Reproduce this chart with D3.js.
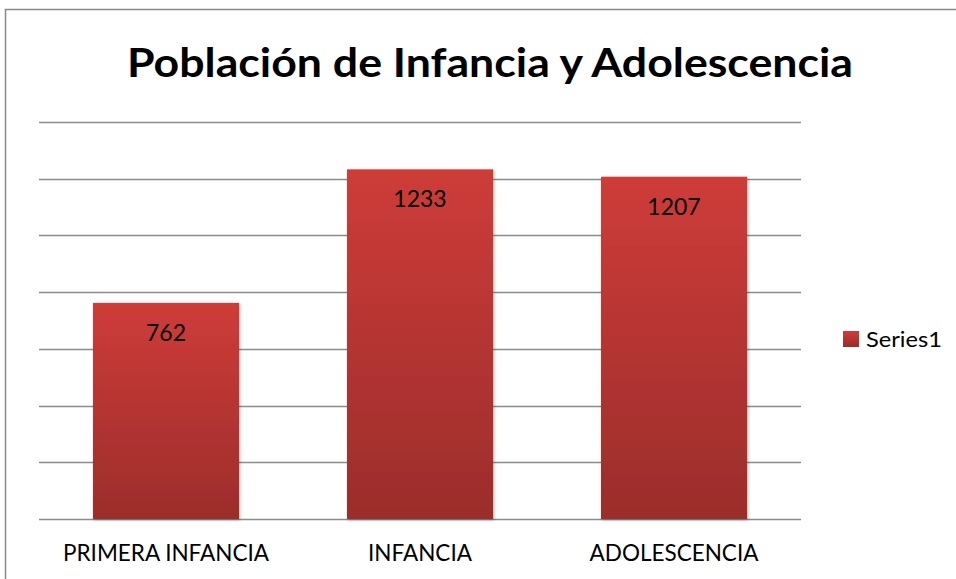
<!DOCTYPE html>
<html>
<head>
<meta charset="utf-8">
<script src="https://cdn.jsdelivr.net/npm/d3@7"></script>
<style>
  html, body { margin: 0; padding: 0; background: #fff; }
  svg { display: block; }
</style>
</head>
<body>
<script>
const categories = ["PRIMERA INFANCIA", "INFANCIA", "ADOLESCENCIA"];
const values = [762, 1233, 1207];
const gridTicks = [0, 200, 400, 600, 800, 1000, 1200, 1400];
const seriesName = "Series1";
const title = "Población de Infancia y Adolescencia";

const width = 956;
const height = 579;
const plot = {left: 39, right: 801, top: 122, bottom: 519};
const font = "Lato, 'Open Sans', sans-serif";

const svg = d3.select('body')
  .append('svg')
  .attr('width', width)
  .attr('height', height);

// gradient for the bars
const grad = svg.append('defs')
  .append('linearGradient')
  .attr('id', 'barGrad')
  .attr('x1', 0).attr('y1', 0).attr('x2', 0).attr('y2', 1);
grad.append('stop').attr('offset', '0%').attr('stop-color', '#ce3c39');
grad.append('stop').attr('offset', '100%').attr('stop-color', '#9b2d2b');

const shadow = svg.select('defs')
  .append('filter')
  .attr('id', 'shadow')
  .attr('x', '-10%').attr('y', '-10%').attr('width', '120%').attr('height', '120%');
shadow.append('feDropShadow')
  .attr('dx', 1).attr('dy', 1).attr('stdDeviation', 1.5)
  .attr('flood-color', '#000').attr('flood-opacity', 0.3);

// outer frame
svg.append('rect')
  .attr('x', 5.5).attr('y', 9.5)
  .attr('width', width + 10).attr('height', height + 10)
  .attr('fill', 'none')
  .attr('stroke', '#8a8a8a')
  .attr('stroke-width', 1.5);

// title
svg.append('text')
  .attr('x', 490)
  .attr('y', 77)
  .attr('text-anchor', 'middle')
  .attr('font-family', font)
  .attr('font-weight', 'bold')
  .attr('font-size', 41)
  .attr('textLength', 726)
  .attr('lengthAdjust', 'spacingAndGlyphs')
  .attr('fill', '#000')
  .text(title);

const xScale = d3.scaleBand()
  .domain(categories)
  .range([plot.left, plot.right])
  .paddingInner(0.425)
  .paddingOuter(0.2125);

const yScale = d3.scaleLinear()
  .domain([0, 1400])
  .range([plot.bottom, plot.top]);

// gridlines
svg.append('g')
  .selectAll('line')
  .data(gridTicks)
  .enter()
  .append('line')
  .attr('x1', plot.left)
  .attr('x2', plot.right)
  .attr('y1', (d) => Math.round(yScale(d)) + 0.5)
  .attr('y2', (d) => Math.round(yScale(d)) + 0.5)
  .attr('stroke', '#8c8c8c')
  .attr('stroke-width', 1.5);

// bars
svg.append('g')
  .selectAll('rect')
  .data(values)
  .enter()
  .append('rect')
  .attr('x', (d, i) => xScale(categories[i]))
  .attr('y', (d) => yScale(d))
  .attr('width', xScale.bandwidth())
  .attr('height', (d) => yScale(0) - yScale(d))
  .attr('fill', 'url(#barGrad)')
  .attr('filter', 'url(#shadow)');

// value labels
svg.append('g')
  .selectAll('text')
  .data(values)
  .enter()
  .append('text')
  .attr('x', (d, i) => xScale(categories[i]) + xScale.bandwidth() / 2)
  .attr('y', (d) => yScale(d) + 38)
  .attr('text-anchor', 'middle')
  .attr('font-family', font)
  .attr('font-size', 23)
  .attr('fill', '#000')
  .text((d) => d);

// category labels
svg.append('g')
  .selectAll('text')
  .data(categories)
  .enter()
  .append('text')
  .attr('x', (d) => xScale(d) + xScale.bandwidth() / 2)
  .attr('y', 561)
  .attr('text-anchor', 'middle')
  .attr('font-family', font)
  .attr('font-size', 22.5)
  .attr('fill', '#000')
  .text((d) => d);

// legend
const legend = svg.append('g');
legend.append('rect')
  .attr('x', 843).attr('y', 331)
  .attr('width', 16).attr('height', 16)
  .attr('fill', 'url(#barGrad)');
legend.append('text')
  .attr('x', 866).attr('y', 347)
  .attr('font-family', font)
  .attr('font-size', 22)
  .attr('textLength', 76)
  .attr('lengthAdjust', 'spacingAndGlyphs')
  .attr('fill', '#000')
  .text(seriesName);
</script>
</body>
</html>
